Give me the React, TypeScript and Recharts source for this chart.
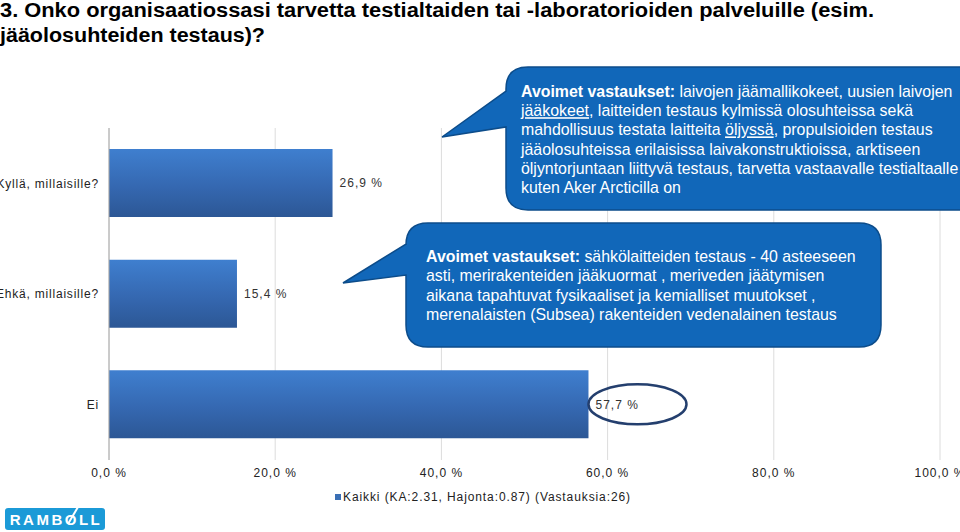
import { BarChart, Bar, XAxis, YAxis, CartesianGrid, Legend, LabelList } from 'recharts';

const titleLines = [
  '3. Onko organisaatiossasi tarvetta testialtaiden tai -laboratorioiden palveluille (esim.',
  'jääolosuhteiden testaus)?',
];
const categories = ['Kyllä, millaisille?', 'Ehkä, millaisille?', 'Ei'];
const values = [26.9, 15.4, 57.7];
const circled = [false, false, true];
const xTicks = [0, 20, 40, 60, 80, 100];
const seriesName = 'Kaikki (KA:2.31, Hajonta:0.87) (Vastauksia:26)';

// [text, underlined]
const callout1Lines: [string, boolean][][] = [
  [['laivojen jäämallikokeet, uusien laivojen', false]],
  [['jääkokeet', true], [', laitteiden testaus kylmissä olosuhteissa sekä', false]],
  [['mahdollisuus testata laitteita ', false], ['öljyssä', true], [', propulsioiden testaus', false]],
  [['jääolosuhteissa erilaisissa laivakonstruktioissa, arktiseen', false]],
  [['öljyntorjuntaan liittyvä testaus, tarvetta vastaavalle testialtaalle', false]],
  [['kuten Aker Arcticilla on', false]],
];
const callout2Lines: [string, boolean][][] = [
  [['sähkölaitteiden testaus - 40 asteeseen', false]],
  [['asti, merirakenteiden jääkuormat , meriveden jäätymisen', false]],
  [['aikana tapahtuvat fysikaaliset ja kemialliset muutokset ,', false]],
  [['merenalaisten (Subsea) rakenteiden vedenalainen testaus', false]],
];

const data = categories.map((name, i) => ({ name, value: values[i], circled: circled[i] }));

const FONT = '"Liberation Sans", Arial, Helvetica, sans-serif';
const fmt = (v: number) => v.toFixed(1).replace('.', ',') + ' %';

function calloutPath(x: number, y: number, w: number, h: number, r: number,
  p1y: number, tipX: number, tipY: number, p2y: number) {
  return `M${x + r},${y} H${x + w - r} Q${x + w},${y} ${x + w},${y + r} V${y + h - r} ` +
    `Q${x + w},${y + h} ${x + w - r},${y + h} H${x + r} Q${x},${y + h} ${x},${y + h - r} ` +
    `V${p2y} L${tipX},${tipY} L${x},${p1y} V${y + r} Q${x},${y} ${x + r},${y} Z`;
}

function CalloutText({ x, y, lh, lines }: { x: number; y: number; lh: number; lines: [string, boolean][][] }) {
  return (
    <text fontSize={15.9} fill="#fff">
      {lines.map((segs, i) => (
        <tspan key={i} x={x} y={y + i * lh}>
          {i === 0 && <tspan fontWeight="bold">Avoimet vastaukset: </tspan>}
          {segs.map(([t, u], j) => (
            <tspan key={j} textDecoration={u ? 'underline' : undefined}>{t}</tspan>
          ))}
        </tspan>
      ))}
    </text>
  );
}

function CategoryTick(props: any) {
  const { y, payload } = props;
  return (
    <text x={99} y={y} dy="0.35em" textAnchor="end" fontSize={12} letterSpacing={0.8}
      fill="#222" fontFamily={FONT}>
      {payload.value}
    </text>
  );
}

function ValueLabel(props: any) {
  const { x, y, width, height, value, index } = props;
  const tx = x + width + 7;
  const cy = y + height / 2;
  return (
    <g>
      <text x={tx} y={cy} dy="0.35em" fontSize={12} letterSpacing={1} fill="#333" fontFamily={FONT}>
        {fmt(value)}
      </text>
      {data[index]?.circled && (
        <ellipse cx={x + width + 49} cy={cy} rx={49} ry={20} fill="none" stroke="#243f6e" strokeWidth={2.5} />
      )}
    </g>
  );
}

function LegendContent() {
  return (
    <div style={{ width: 960, height: 40 }}>
      <svg width={960} height={40}>
        <rect x={335} y={4} width={6} height={6} fill="#3a6fb5" />
        <text x={343} y={11} fontSize={12} letterSpacing={0.9} fill="#222" fontFamily={FONT}>
          {seriesName}
        </text>
      </svg>
    </div>
  );
}

export default function App() {
  return (
    <div style={{ position: 'fixed', left: 0, top: 0, width: 960, height: 532, background: '#fff', overflow: 'hidden' }}>
      <BarChart width={960} height={532} layout="vertical" data={data}
        margin={{ top: 128, right: 20, left: 0, bottom: 2 }}>
        <defs>
          <linearGradient id="barGrad" x1="0" y1="0" x2="0" y2="1">
            <stop offset="0%" stopColor="#3f7fcf" />
            <stop offset="55%" stopColor="#3568b1" />
            <stop offset="100%" stopColor="#2c5795" />
          </linearGradient>
        </defs>
        <CartesianGrid horizontal={false} stroke="#dcdcdc" />
        <XAxis type="number" domain={[0, 100]} ticks={xTicks} tickFormatter={fmt} height={30}
          axisLine={false} tickLine={false} interval={0}
          tick={{ fontSize: 12, fill: '#222', fontFamily: FONT, letterSpacing: 1 }} />
        <YAxis type="category" dataKey="name" width={109} tickLine={false} axisLine={{ stroke: '#a8a8a8' }}
          tick={<CategoryTick />} interval={0} />
        <Legend verticalAlign="bottom" content={<LegendContent />}
          wrapperStyle={{ left: 0, top: 490, width: 960, height: 40 }} />
        <Bar dataKey="value" name={seriesName} fill="url(#barGrad)" barSize={68} isAnimationActive={false}>
          <LabelList dataKey="value" content={<ValueLabel />} />
        </Bar>
      </BarChart>

      <svg width={960} height={532} style={{ position: 'absolute', left: 0, top: 0, pointerEvents: 'none' }}
        fontFamily={FONT}>
        {/* title */}
        <text x={0} y={17} fontSize={20} fontWeight="bold" fill="#000" textLength={874} lengthAdjust="spacingAndGlyphs">
          {titleLines[0]}
        </text>
        <text x={0} y={42} fontSize={20} fontWeight="bold" fill="#000" textLength={265} lengthAdjust="spacingAndGlyphs">
          {titleLines[1]}
        </text>

        {/* callout 1 */}
        <path d={calloutPath(506, 67, 480, 143, 22, 91, 442, 137, 127)} fill="#1167b9" stroke="#0c4c8a" strokeWidth={1.5} />
        <CalloutText x={521} y={97} lh={19.2} lines={callout1Lines} />

        {/* callout 2 */}
        <path d={calloutPath(406, 223, 475, 124, 22, 244, 343, 283, 275)} fill="#1167b9" stroke="#0c4c8a" strokeWidth={1.5} />
        <CalloutText x={426} y={262} lh={19.3} lines={callout2Lines} />

        {/* logo */}
        <rect x={5} y={508} width={100} height={22} rx={3} fill="#1b9ad7" />
        <text x={56} y={525} fontSize={15} fontWeight="bold" fill="#fff" textAnchor="middle" letterSpacing={2.5}>
          RAMBOLL
        </text>
        <line x1={68} y1={524} x2={78} y2={507} stroke="#fff" strokeWidth={2} />
      </svg>
    </div>
  );
}
